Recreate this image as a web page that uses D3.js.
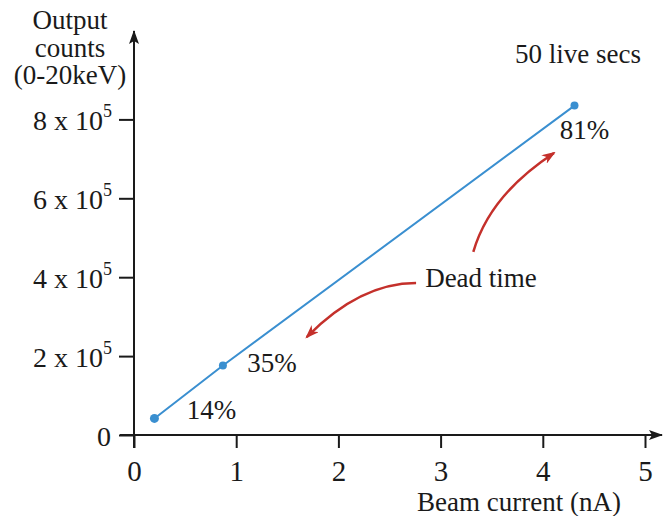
<!DOCTYPE html>
<html>
<head>
<meta charset="utf-8">
<script src="https://cdn.jsdelivr.net/npm/d3@7"></script>
<style>
  html, body { margin: 0; padding: 0; background: #fff; }
  svg text { font-family: "Liberation Serif", "Times New Roman", serif; fill: #1a1a1a; }
</style>
</head>
<body>
<svg id="chart" width="665" height="516"></svg>
<script>
// Beam current (nA) vs output counts, with dead-time percentages
const beamCurrent = [0.2, 0.87, 4.31];
const outputCounts = [0.42e5, 1.76e5, 8.35e5];
const deadTimeLabels = ["14%", "35%", "81%"];

const xTicks = [0, 1, 2, 3, 4, 5];
const yTicks = [0, 2e5, 4e5, 6e5, 8e5];
const yTickMantissa = ["0", "2", "4", "6", "8"];

// "Dead time" annotation arrows: [start, control, end] in data units
const arrowUp = [[3.32, 4.64e5], [3.48, 6.08e5], [4.11, 7.15e5]];
const arrowDown = [[2.76, 3.85e5], [2.21, 3.85e5], [1.69, 2.48e5]];

const svg = d3.select("#chart");
const x = d3.scaleLinear().domain([0, 5]).range([134, 645]);
const y = d3.scaleLinear().domain([0, 8e5]).range([435, 119.4]);

const black = "#1a1a1a";
const blue = "#3a8fd0";
const red = "#c4302b";

// defs: arrowheads
const defs = svg.append("defs");
defs.append("marker")
  .attr("id", "axisHead").attr("viewBox", "0 0 14 10")
  .attr("refX", 13).attr("refY", 5)
  .attr("markerWidth", 14).attr("markerHeight", 10)
  .attr("markerUnits", "userSpaceOnUse").attr("orient", "auto")
  .append("path").attr("d", "M0,0 L14,5 L0,10 L3,5 Z").attr("fill", black);
defs.append("marker")
  .attr("id", "redHead").attr("viewBox", "0 0 14 10")
  .attr("refX", 12).attr("refY", 5)
  .attr("markerWidth", 14).attr("markerHeight", 10)
  .attr("markerUnits", "userSpaceOnUse").attr("orient", "auto")
  .append("path").attr("d", "M0,0 L14,5 L0,10 L4,5 Z").attr("fill", red);

// axis lines with arrowheads
svg.append("line")
  .attr("x1", x(0) - 14).attr("x2", 662)
  .attr("y1", y(0)).attr("y2", y(0))
  .attr("stroke", black).attr("stroke-width", 2)
  .attr("marker-end", "url(#axisHead)");
svg.append("line")
  .attr("x1", x(0)).attr("x2", x(0))
  .attr("y1", y(0) + 13).attr("y2", 31)
  .attr("stroke", black).attr("stroke-width", 2)
  .attr("marker-end", "url(#axisHead)");

// x axis ticks
const xAxis = d3.axisBottom(x).tickValues(xTicks).tickSize(13).tickSizeOuter(0).tickFormat(d3.format("d"));
const gx = svg.append("g").attr("transform", `translate(0,${y(0)})`).call(xAxis);
gx.select(".domain").remove();
gx.selectAll(".tick line").attr("stroke", black).attr("stroke-width", 2);
gx.selectAll(".tick text")
  .attr("y", 46).attr("dy", null)
  .attr("font-size", 29).attr("fill", black)
  .style("font-family", "Liberation Serif, Times New Roman, serif");

// y axis ticks
const yAxis = d3.axisLeft(y).tickValues(yTicks).tickSize(15).tickSizeOuter(0).tickFormat("");
const gy = svg.append("g").attr("transform", `translate(${x(0)},0)`).call(yAxis);
gy.select(".domain").remove();
gy.selectAll(".tick line").attr("stroke", black).attr("stroke-width", 2);
gy.selectAll(".tick text").remove();

// y tick labels "n x 10^5"
const yLab = svg.append("g");
yTicks.forEach((v, i) => {
  const t = yLab.append("text")
    .attr("x", i === 0 ? 111 : 112)
    .attr("y", y(v) + 11)
    .attr("text-anchor", "end")
    .attr("font-size", 28);
  if (v === 0) {
    t.text(yTickMantissa[i]);
  } else {
    t.append("tspan").text(yTickMantissa[i] + " x 10");
    t.append("tspan").attr("dy", -13).attr("font-size", 18).text("5");
  }
});

// y axis title
const yTitle = svg.append("text").attr("text-anchor", "middle").attr("font-size", 27);
["Output", "counts", "(0-20keV)"].forEach((s, i) => {
  yTitle.append("tspan").attr("x", 70).attr("y", 29 + i * 27.5).text(s);
});

// x axis title
svg.append("text")
  .attr("x", 519).attr("y", 511)
  .attr("text-anchor", "middle").attr("font-size", 27)
  .text("Beam current (nA)");

// data line and points
const pts = beamCurrent.map((b, i) => [b, outputCounts[i]]);
svg.append("path")
  .datum(pts)
  .attr("d", d3.line().x(d => x(d[0])).y(d => y(d[1])))
  .attr("fill", "none").attr("stroke", blue).attr("stroke-width", 2);
svg.append("g").selectAll("circle").data(pts).join("circle")
  .attr("cx", d => x(d[0])).attr("cy", d => y(d[1]))
  .attr("r", (d, i) => i === 0 ? 4.5 : 4)
  .attr("fill", blue);

// dead-time labels next to each point
const labelOffsets = [[57, 1], [49, 6], [10, 33]];
svg.append("g").selectAll("text").data(pts).join("text")
  .attr("x", (d, i) => x(d[0]) + labelOffsets[i][0])
  .attr("y", (d, i) => y(d[1]) + labelOffsets[i][1])
  .attr("text-anchor", "middle")
  .attr("font-size", 27)
  .text((d, i) => deadTimeLabels[i]);

// acquisition note
svg.append("text")
  .attr("x", 578).attr("y", 63)
  .attr("text-anchor", "middle").attr("font-size", 27)
  .text("50 live secs");

// dead time annotation
svg.append("text")
  .attr("x", 481).attr("y", 287)
  .attr("text-anchor", "middle").attr("font-size", 27)
  .text("Dead time");

const curve = p => {
  const path = d3.path();
  path.moveTo(x(p[0][0]), y(p[0][1]));
  path.quadraticCurveTo(x(p[1][0]), y(p[1][1]), x(p[2][0]), y(p[2][1]));
  return path.toString();
};
[arrowUp, arrowDown].forEach(a => {
  svg.append("path")
    .attr("d", curve(a))
    .attr("fill", "none").attr("stroke", red).attr("stroke-width", 2.5)
    .attr("marker-end", "url(#redHead)");
});
</script>
</body>
</html>
